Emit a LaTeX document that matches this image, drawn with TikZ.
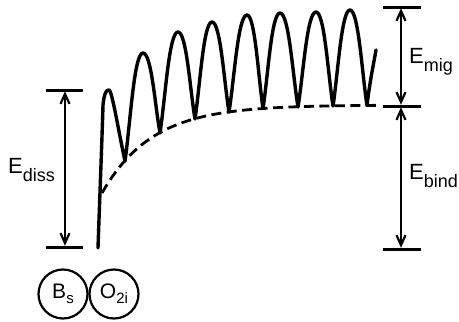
\documentclass[tikz,border=0pt]{standalone}
\usepackage{fontspec}
\setmainfont{Liberation Sans}
\usetikzlibrary{arrows.meta}
\tikzset{
  bar/.style={line width=3pt},
  dimarrow/.style={line width=2.2pt,{Straight Barb[length=10pt,width=9pt,line width=2.2pt]}-{Straight Barb[length=10pt,width=9pt,line width=2.2pt]}, shorten <=1.2pt, shorten >=1.2pt},
  curve/.style={line width=3.4pt, line join=round, line cap=round},
  dashcurve/.style={line width=2.8pt, dash pattern=on 10pt off 5.5pt},
  lbl/.style={inner sep=0pt, anchor=base west, font=\fontsize{22}{22}\selectfont},
  atom/.style={circle, draw, line width=2.2pt, minimum size=49pt, inner sep=0pt, font=\fontsize{21}{21}\selectfont}
}
\newcommand{\subtxt}[1]{\raisebox{-8pt}{\fontsize{18}{18}\selectfont #1}}
\newcommand{\subatom}[1]{\raisebox{-5pt}{\fontsize{15}{15}\selectfont #1}}
\begin{document}
\begin{tikzpicture}[x=1pt,y=-1pt]
\path[use as bounding box] (0,0) rectangle (459,322);

% left dimension
\coordinate (ltopL) at (46,90);  \coordinate (ltopR) at (83,90);
\coordinate (lbotL) at (46,247); \coordinate (lbotR) at (83,247);
\coordinate (ltop) at (65,90);   \coordinate (lbot) at (65,247);
\draw[bar] (ltopL) -- (ltopR);
\draw[bar] (lbotL) -- (lbotR);
\draw[dimarrow] (ltop) -- (lbot);
\node[lbl] (ediss) at (8,173) {E\subtxt{diss}};

% right dimension
\coordinate (rtopL) at (383,7);   \coordinate (rtopR) at (421,7);
\coordinate (rmidL) at (383,106); \coordinate (rmidR) at (421,106);
\coordinate (rbotL) at (383,249); \coordinate (rbotR) at (421,249);
\coordinate (rtop) at (401,7); \coordinate (rmid) at (401,106); \coordinate (rbot) at (401,249);
\draw[bar] (rtopL) -- (rtopR);
\draw[bar] (rmidL) -- (rmidR);
\draw[bar] (rbotL) -- (rbotR);
\draw[dimarrow] (rtop) -- (rmid);
\draw[dimarrow] (rmid) -- (rbot);
\node[lbl] (emig) at (409,63) {E\subtxt{mig}};
\node[lbl] (ebind) at (409,179) {E\subtxt{bind}};

% dashed envelope
\draw[dashcurve] plot[domain=102:377, samples=80] (\x, {105+88*exp(-(\x-102)/50)});

% oscillating curve
\draw[curve] (98,248) .. controls (100,190) and (102,140) .. (103,105)
  .. controls (104,95) and (106,89) .. (109,90)
  .. controls (112,90) and (119,134) .. (125,161)
  .. controls (130.4,123.2) and (134,53) .. (143,53)
  .. controls (151.5,53) and (154.9,105) .. (160,133)
  .. controls (165.4,97.65) and (169,32) .. (178,32)
  .. controls (186.5,32) and (189.9,88.55) .. (195,119)
  .. controls (200.1,85.05) and (203.5,22) .. (212,22)
  .. controls (220.5,22) and (223.9,80.5) .. (229,112)
  .. controls (234.4,78.05) and (238,15) .. (247,15)
  .. controls (255,15) and (258.2,75.8) .. (263,108.5)
  .. controls (268.1,75.1) and (271.5,13) .. (280,13)
  .. controls (289,13) and (292.6,74.1) .. (298,107)
  .. controls (303.4,73.75) and (307,12) .. (316,12)
  .. controls (324.5,12) and (327.9,73.1) .. (333,106)
  .. controls (338.1,72.4) and (341.5,10) .. (350,10)
  .. controls (358.5,10) and (361.9,72.1) .. (367,105.5)
  .. controls (370,80) and (374,62) .. (376,50);

% atoms
\node[atom] (bs) at (63,294) {B\subatom{s}};
\node[atom] (o2i) at (114,294) {O\subatom{2i}};
\end{tikzpicture}
\end{document}
